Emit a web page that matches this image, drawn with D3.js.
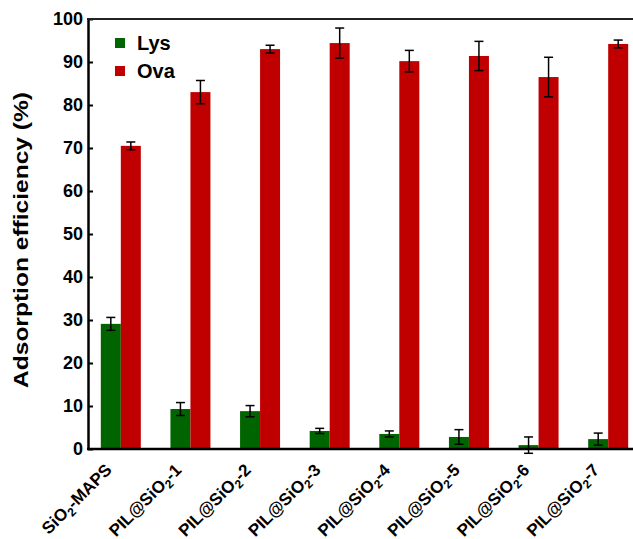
<!DOCTYPE html>
<html>
<head>
<meta charset="utf-8">
<script src="https://cdn.jsdelivr.net/npm/d3@7"></script>
<style>
  body { margin: 0; background: #fff; }
  svg { display: block; font-family: "Liberation Sans", Arial, sans-serif; }
</style>
</head>
<body>
<div id="chart"></div>
<script>
// samples on the x axis (sub = subscript part)
var samples = [
    ["SiO", "2", "-MAPS"],
    ["PIL@SiO", "2", "-1"],
    ["PIL@SiO", "2", "-2"],
    ["PIL@SiO", "2", "-3"],
    ["PIL@SiO", "2", "-4"],
    ["PIL@SiO", "2", "-5"],
    ["PIL@SiO", "2", "-6"],
    ["PIL@SiO", "2", "-7"]
];
var series = ["Lys", "Ova"];
var colors = ["#006400", "#c00000"];

// adsorption efficiency (%) and error
var lys = [29.1, 9.3, 8.8, 4.2, 3.5, 2.8, 0.9, 2.3];
var lysErr = [1.5, 1.5, 1.3, 0.6, 0.7, 1.7, 1.9, 1.4];
var ova = [70.5, 83.0, 93.0, 94.4, 90.2, 91.4, 86.5, 94.2];
var ovaErr = [0.9, 2.7, 0.9, 3.5, 2.5, 3.4, 4.6, 0.9];
var yTicks = [0, 10, 20, 30, 40, 50, 60, 70, 80, 90, 100];

var width = 633, height = 539;
var plotLeft = 88, plotTop = 19, plotBottom = 449;

var svg = d3.select("#chart").append("svg")
    .attr("width", width)
    .attr("height", height);

var x = d3.scaleBand()
    .domain(d3.range(samples.length))
    .range([86, 643]);

var y = d3.scaleLinear()
    .domain([0, 100])
    .range([plotBottom, plotTop]);

var barW = 20;

// bars + error bars, one pass per series
[lys, ova].forEach(function(vals, s) {
    var errs = s == 0 ? lysErr : ovaErr;
    var g = svg.append("g");
    var cx = function(i) { return x(i) + x.bandwidth() / 2 + (s == 0 ? -barW : 0); };

    g.selectAll("rect")
        .data(vals)
        .enter()
        .append("rect")
        .attr("x", function(d, i) { return cx(i); })
        .attr("y", function(d) { return y(d); })
        .attr("width", barW)
        .attr("height", function(d) { return y(0) - y(d); })
        .style("fill", colors[s]);

    var eb = g.selectAll("g.err")
        .data(vals)
        .enter()
        .append("g")
        .attr("class", "err")
        .style("stroke", "#000")
        .style("stroke-width", 1.5);

    eb.append("line")
        .attr("x1", function(d, i) { return cx(i) + barW / 2; })
        .attr("x2", function(d, i) { return cx(i) + barW / 2; })
        .attr("y1", function(d, i) { return y(d + errs[i]); })
        .attr("y2", function(d, i) { return y(d - errs[i]); });

    [1, -1].forEach(function(sign) {
        eb.append("line")
            .attr("x1", function(d, i) { return cx(i) + barW / 2 - 4.5; })
            .attr("x2", function(d, i) { return cx(i) + barW / 2 + 4.5; })
            .attr("y1", function(d, i) { return y(d + sign * errs[i]); })
            .attr("y2", function(d, i) { return y(d + sign * errs[i]); });
    });
});

// y axis (ticks inward)
var yAxis = svg.append("g")
    .attr("transform", "translate(" + plotLeft + ",0)")
    .call(d3.axisLeft(y).tickValues(yTicks).tickSizeInner(-5).tickSizeOuter(0).tickPadding(5));
yAxis.select(".domain").style("stroke-width", 2.5);
yAxis.selectAll(".tick line").style("stroke-width", 2);
yAxis.selectAll("text")
    .style("font-size", "18px")
    .style("font-weight", "bold")
    .style("fill", "#000");

// bottom + top frame lines
svg.append("line")
    .attr("x1", plotLeft - 1).attr("x2", width)
    .attr("y1", plotBottom).attr("y2", plotBottom)
    .style("stroke", "#000").style("stroke-width", 2.5);
svg.append("line")
    .attr("x1", plotLeft - 1).attr("x2", width)
    .attr("y1", plotTop).attr("y2", plotTop)
    .style("stroke", "#222").style("stroke-width", 2);

// x labels rotated
var xl = svg.selectAll("text.xl")
    .data(samples)
    .enter()
    .append("text")
    .attr("class", "xl")
    .attr("transform", function(d, i) {
        return "translate(" + (x(i) + x.bandwidth() / 2 - 8) + "," + 471 + ") rotate(-45)";
    })
    .attr("text-anchor", "end")
    .style("font-size", "17px")
    .style("font-weight", "bold");
xl.append("tspan").text(function(d) { return d[0]; });
xl.append("tspan").attr("dy", 4).style("font-size", "12px").text(function(d) { return d[1]; });
xl.append("tspan").attr("dy", -4).text(function(d) { return d[2]; });

// y title
svg.append("text")
    .attr("transform", "translate(28,240) rotate(-90)")
    .attr("text-anchor", "middle")
    .attr("textLength", 296)
    .attr("lengthAdjust", "spacingAndGlyphs")
    .style("font-size", "20px")
    .style("font-weight", "bold")
    .text("Adsorption efficiency (%)");

// legend
var leg = svg.selectAll("g.leg")
    .data(series)
    .enter()
    .append("g")
    .attr("class", "leg")
    .attr("transform", function(d, i) { return "translate(115," + (38 + i * 28) + ")"; });
leg.append("rect")
    .attr("width", 10).attr("height", 10)
    .style("fill", function(d, i) { return colors[i]; });
leg.append("text")
    .attr("x", 22).attr("y", 12)
    .style("font-size", "20px")
    .style("font-weight", "bold")
    .text(function(d) { return d; });
</script>
</body>
</html>
